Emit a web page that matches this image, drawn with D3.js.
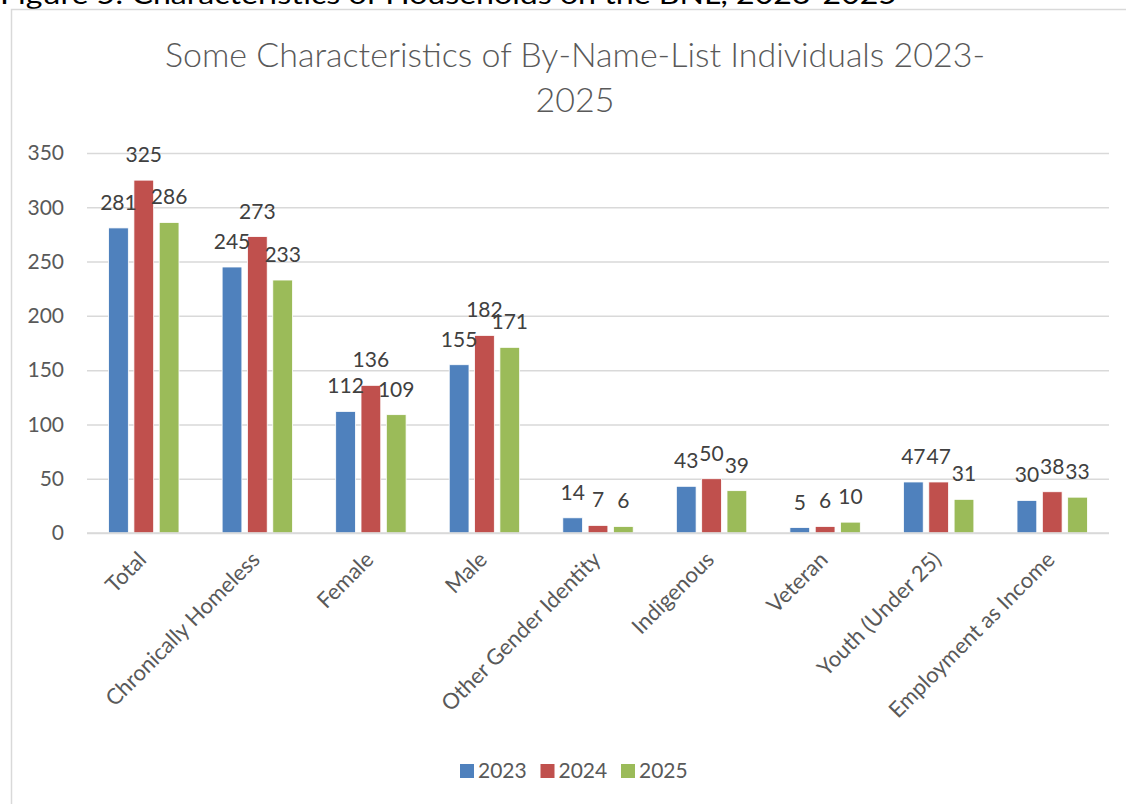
<!DOCTYPE html>
<html>
<head>
<meta charset="utf-8">
<script src="https://cdn.jsdelivr.net/npm/d3@7"></script>
<style>
	body { margin: 0; background: #fff; }
	svg { display: block; font-family: Lato, Carlito, Calibri, sans-serif; }
</style>
</head>
<body>
<svg width="1126" height="804"></svg>
<script>
const categories = ['Total', 'Chronically Homeless', 'Female', 'Male', 'Other Gender Identity', 'Indigenous', 'Veteran', 'Youth (Under 25)', 'Employment as Income'];
const years = ['2023', '2024', '2025'];
const values2023 = [281, 245, 112, 155, 14, 43, 5, 47, 30];
const values2024 = [325, 273, 136, 182, 7, 50, 6, 47, 38];
const values2025 = [286, 233, 109, 171, 6, 39, 10, 31, 33];
const yTicks = [0, 50, 100, 150, 200, 250, 300, 350];
const colors = ['#4F81BD', '#C0504D', '#9BBB59'];

const series = [values2023, values2024, values2025];
const textColor = '#595959';

const svg = d3.select('svg');

// caption of the figure, cut off at the top of the page
svg.append('text')
	.attr('x', 0).attr('y', 4)
	.attr('font-size', 26)
	.attr('fill', '#000')
	.attr('textLength', 897)
	.attr('lengthAdjust', 'spacingAndGlyphs')
	.text('Figure 5: Characteristics of Households on the BNL, 2023-2025');

// chart frame
svg.append('path')
	.attr('d', 'M11.5,810 V9.5 H1130')
	.attr('fill', 'none')
	.attr('stroke', '#D9D9D9')
	.attr('stroke-width', 1.5);

const title = svg.append('text')
	.attr('text-anchor', 'middle')
	.attr('font-size', 34)
	.attr('font-weight', 300)
	.attr('fill', textColor);
title.append('tspan').attr('x', 575).attr('y', 67).text('Some Characteristics of By-Name-List Individuals 2023-');
title.append('tspan').attr('x', 575).attr('y', 112).text('2025');

const x0 = d3.scaleBand()
	.domain(categories)
	.range([87, 1109])
	.paddingInner(0.38)
	.paddingOuter(0.19);

const x1 = d3.scaleBand()
	.domain(years)
	.range([0, x0.bandwidth()])
	.paddingInner(0.22);

const y = d3.scaleLinear()
	.domain([0, 350])
	.range([533, 153]);

// gridlines
const yAxis = svg.append('g')
	.attr('transform', 'translate(87,0)')
	.call(d3.axisLeft(y).tickValues(yTicks).tickSize(-(1109 - 87)).tickPadding(23));
yAxis.select('.domain').remove();
yAxis.selectAll('.tick line').attr('stroke', '#D9D9D9').attr('stroke-width', 1.5);
yAxis.selectAll('.tick text')
	.attr('fill', textColor)
	.attr('font-size', 21)
	.attr('font-family', 'Lato, Carlito, Calibri, sans-serif');

// bars
const groups = svg.append('g')
	.selectAll('g')
	.data(categories)
	.enter().append('g')
	.attr('transform', d => `translate(${x0(d)},0)`);

groups.selectAll('rect')
	.data((d, i) => years.map((yr, j) => ({year: yr, value: series[j][i], color: colors[j]})))
	.enter().append('rect')
	.attr('x', d => x1(d.year))
	.attr('width', x1.bandwidth())
	.attr('y', d => y(d.value))
	.attr('height', d => y(0) - y(d.value))
	.attr('fill', d => d.color)
	.attr('stroke', '#fff')
	.attr('stroke-width', 0.8);

groups.selectAll('text')
	.data((d, i) => years.map((yr, j) => ({year: yr, value: series[j][i]})))
	.enter().append('text')
	.attr('x', d => x1(d.year) + x1.bandwidth() / 2)
	.attr('y', d => y(d.value) - 18)
	.attr('text-anchor', 'middle')
	.attr('font-size', 21)
	.attr('fill', '#404040')
	.text(d => d.value);

// x axis line
svg.append('line')
	.attr('x1', 87).attr('x2', 1109)
	.attr('y1', y(0)).attr('y2', y(0))
	.attr('stroke', '#D9D9D9')
	.attr('stroke-width', 1.5);

// category labels
svg.append('g')
	.selectAll('text')
	.data(categories)
	.enter().append('text')
	.attr('transform', d => `translate(${x0(d) + x0.bandwidth() / 2 + 4},${y(0) + 28}) rotate(-45)`)
	.attr('text-anchor', 'end')
	.attr('font-size', 22)
	.attr('fill', textColor)
	.text(d => d);

// legend
const legend = svg.append('g')
	.selectAll('g')
	.data(years)
	.enter().append('g')
	.attr('transform', (d, i) => `translate(${460 + i * 80.5},764)`);

legend.append('rect')
	.attr('width', 14).attr('height', 14)
	.attr('fill', (d, i) => colors[i]);

legend.append('text')
	.attr('x', 18).attr('y', 14)
	.attr('font-size', 21)
	.attr('fill', textColor)
	.text(d => d);
</script>
</body>
</html>
